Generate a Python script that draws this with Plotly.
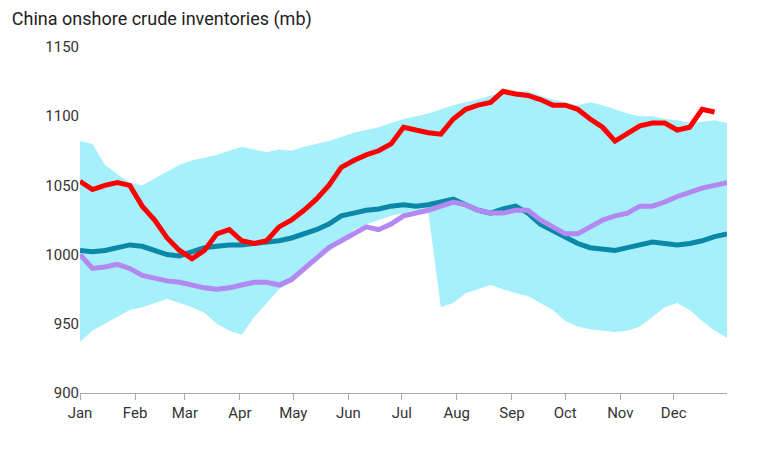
import plotly.graph_objects as go

months = ["Jan","Feb","Mar","Apr","May","Jun","Jul","Aug","Sep","Oct","Nov","Dec"]
month_days = [1,32,60,91,121,152,182,213,244,274,305,335]

weeks = [1 + 7*i for i in range(53)]
upper = [1082,1080,1065,1058,1052,1050,1055,1060,1065,1068,1070,1072,1075,1078,1076,1074,1076,1075,1078,1080,1082,1085,1088,1090,1092,1095,1098,1100,1102,1105,1108,1110,1112,1115,1117,1118,1118,1115,1112,1110,1108,1110,1108,1105,1102,1100,1100,1098,1097,1095,1096,1097,1095]
lower = [937,945,950,955,960,962,965,968,965,962,958,950,945,942,955,965,975,980,990,998,1002,1010,1018,1022,1025,1028,1030,1032,1030,962,965,972,975,978,975,972,970,965,960,952,948,946,945,944,945,948,955,962,965,960,952,945,940]
avg5 = [1003,1002,1003,1005,1007,1006,1003,1000,999,1002,1005,1006,1007,1007,1008,1009,1010,1012,1015,1018,1022,1028,1030,1032,1033,1035,1036,1035,1036,1038,1040,1036,1032,1030,1033,1035,1030,1022,1017,1012,1008,1005,1004,1003,1005,1007,1009,1008,1007,1008,1010,1013,1015]
last_year = [1000,990,991,993,990,985,983,981,980,978,976,975,976,978,980,980,978,982,990,997,1005,1010,1015,1020,1018,1022,1028,1030,1032,1035,1038,1036,1032,1030,1030,1032,1032,1025,1020,1015,1015,1020,1025,1028,1030,1035,1035,1038,1042,1045,1048,1050,1052]
this_year = [1053,1047,1050,1052,1050,1035,1025,1012,1003,997,1003,1015,1018,1010,1008,1010,1020,1025,1032,1040,1050,1063,1068,1072,1075,1080,1092,1090,1088,1087,1098,1105,1108,1110,1118,1116,1115,1112,1108,1108,1105,1098,1092,1082,1088,1093,1095,1095,1090,1092,1105,1103]

fig = go.Figure()
fig.add_trace(go.Scatter(x=weeks, y=lower, mode="lines", line=dict(width=0), showlegend=False, hoverinfo="skip"))
fig.add_trace(go.Scatter(x=weeks, y=upper, mode="lines", line=dict(width=0), fill="tonexty",
                         fillcolor="#a6f0fb", showlegend=False, name="Range"))
fig.add_trace(go.Scatter(x=weeks, y=avg5, mode="lines", line=dict(color="#0b87a8", width=5), showlegend=False))
fig.add_trace(go.Scatter(x=weeks, y=last_year, mode="lines", line=dict(color="#b388f0", width=5), showlegend=False))
fig.add_trace(go.Scatter(x=weeks[:len(this_year)], y=this_year, mode="lines", line=dict(color="#ff0000", width=5), showlegend=False))

fig.update_layout(
    width=774, height=456, plot_bgcolor="white", paper_bgcolor="white",
    margin=dict(l=72, r=55, t=39, b=71),
    font=dict(family="Roboto, sans-serif", size=15, color="#333"),
    title=dict(text="China onshore crude inventories (mb)", x=0.005, xanchor="left", y=0.99, yanchor="top",
               font=dict(size=18, color="#222")),
)
fig.update_xaxes(range=[1, 365], tickvals=month_days, ticktext=months, showgrid=False,
                 showline=True, linecolor="#aaa", ticks="outside", tickcolor="#aaa", ticklen=6,
                 tickfont=dict(size=15, color="#333"))
fig.update_yaxes(range=[900, 1150], tickvals=[900,950,1000,1050,1100,1150], showgrid=False,
                 zeroline=False, ticks="", tickfont=dict(size=15, color="#333"))
fig.write_html("out.html")
